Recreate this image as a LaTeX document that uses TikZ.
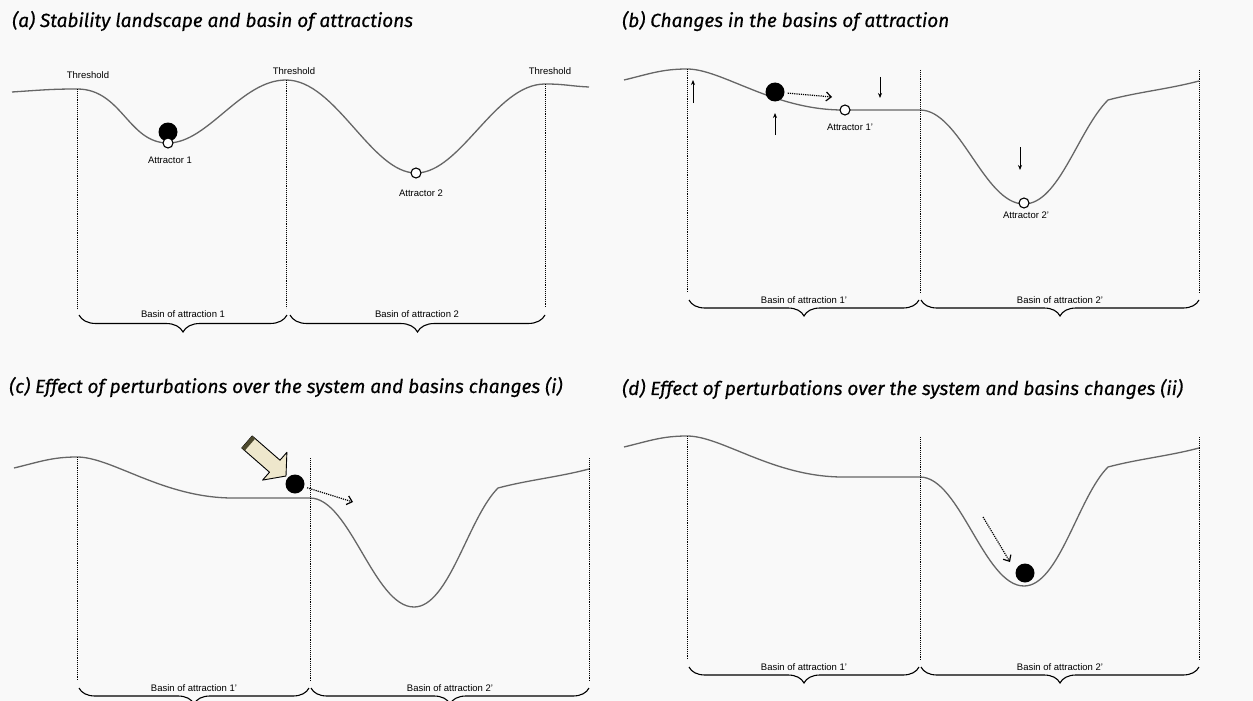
\documentclass[tikz,border=0pt]{standalone}
\usepackage{fontspec}
\setmainfont{Liberation Sans}
\newfontfamily\titlefont[FakeBold=0.5]{Fira Sans}
\usetikzlibrary{arrows.meta, decorations.pathreplacing}

\definecolor{paper}{RGB}{249,249,249}
\definecolor{cream}{RGB}{238,231,204}

\tikzset{
  land/.style={draw=black!60, line width=1.3pt},
  thresh/.style={densely dotted, line width=0.9pt},
  basin/.style={decorate, decoration={brace, mirror, amplitude=16pt}, line width=1.1pt},
  ball/.style={circle, fill=black, minimum size=19pt, inner sep=0pt},
  attr/.style={circle, draw, fill=white, line width=1.1pt, minimum size=10pt, inner sep=0pt},
  lbl/.style={font=\fontsize{9.5}{11}\selectfont, inner sep=0pt},
  ttl/.style={font=\titlefont\itshape\fontsize{19}{22}\selectfont, anchor=west, inner sep=0pt},
  move/.style={densely dotted, line width=1.2pt, -{Straight Barb[length=5pt, width=9pt]}},
  nudge/.style={line width=1pt, -{Stealth[length=5pt, width=4pt]}},
  push/.style={draw, fill=cream, line width=0.9pt, line join=round}
}

% landscape of panels (b)-(d), argument = depth of the second basin
\newcommand{\landscape}[1]{%
  \draw [land] (14,80) .. controls +(25,-6) and +(-25,0) .. (77,69)
    .. controls +(35,0) and +(-70,0) .. (233,110)
    .. controls +(30,0) and +(-30,0) .. (310,110)
    .. controls +(40,0) and +(-40,0) .. (414,#1)
    .. controls +(35,0) and +(-30,30) .. (498,100)
    .. controls +(30,-8) and +(-30,8) .. (589,81);
  \draw [thresh] (77,69) -- (77,293);
  \draw [thresh] (310,70) -- (310,293);
  \draw [thresh] (589,70) -- (589,293);
  \draw [basin] (79,300) -- (309,300);
  \draw [basin] (311,300) -- (589,300);
  \node [lbl] (basin1) at (194,300) {Basin of attraction 1'};
  \node [lbl] (basin2) at (450,300) {Basin of attraction 2'};}

\begin{document}
\begin{tikzpicture}[x=1pt, y=-1pt]
  \fill [paper] (0,0) rectangle (1253,701);
  \useasboundingbox (0,0) rectangle (1253,701);

  % (a)
  \node [ttl] (titleA) at (12,21) {(a) Stability landscape and basin of attractions};
  \draw [land] (12,92) .. controls +(30,-2) and +(-25,0) .. (77,89)
    .. controls +(45,0) and +(-40,0) .. (168,143)
    .. controls +(40,0) and +(-45,0) .. (286,80)
    .. controls +(50,0) and +(-45,0) .. (416,173)
    .. controls +(45,0) and +(-50,0) .. (545,84)
    .. controls +(20,0) and +(-20,-1) .. (589,87);
  \draw [thresh] (77,89) -- (77,308);
  \draw [thresh] (286,80) -- (286,308);
  \draw [thresh] (545,84) -- (545,308);
  \node [lbl] (thA1) at (88,75) {Threshold};
  \node [lbl] (thA2) at (294,71) {Threshold};
  \node [lbl] (thA3) at (550,71) {Threshold};
  \node [ball] (ballA) at (168,132) {};
  \node [attr] (attA1) at (168,143) {};
  \node [attr] (attA2) at (416,173) {};
  \node [lbl] (labA1) at (170,160) {Attractor 1};
  \node [lbl] (labA2) at (421,193) {Attractor 2};
  \draw [basin, decoration={amplitude=17pt}] (79,315) -- (287,315);
  \draw [basin, decoration={amplitude=17pt}] (290,315) -- (545,315);
  \node [lbl] (basinA1) at (183,314) {Basin of attraction 1};
  \node [lbl] (basinA2) at (417,314) {Basin of attraction 2};

  % (b)
  \begin{scope}[shift={(610,0)}]
    \node [ttl] (titleB) at (12,21) {(b) Changes in the basins of attraction};
    \landscape{204}
    \node [ball] (ballB) at (165,92) {};
    \node [attr] (attB1) at (235,110) {};
    \node [attr] (attB2) at (414,203) {};
    \node [lbl] (labB1) at (240,127) {Attractor 1'};
    \node [lbl] (labB2) at (416,215) {Attractor 2'};
    \coordinate (toB) at (222,97);
    \draw [move, shorten <=3pt] (ballB) -- (toB);
    \draw [nudge] (83,103) -- (83,80);
    \draw [nudge] (165,135) -- (165,113);
    \draw [nudge] (270,77) -- (270,98);
    \draw [nudge] (410,147) -- (410,170);
  \end{scope}

  % (c)
  \begin{scope}[shift={(0,388)}]
    \node [ttl] (titleC) at (9,-1) {(c) Effect of perturbations over the system and basins changes (i)};
    \landscape{219}
    \node [ball] (ballC) at (295,96) {};
    % block arrow pushing the ball
    \draw [push] (241.8,60) -- (252.2,48) -- (280,72.2) -- (286.9,64.3) -- (286,88)
      -- (262.6,92.1) -- (269.5,84.2) -- cycle;
    \fill [olive!40!black] (241.8,60) -- (252.2,48) -- (255.2,50.6) -- (244.8,62.6) -- cycle;
    \coordinate (toC) at (353,114);
    \draw [move, shorten <=3pt] (ballC) -- (toC);
  \end{scope}

  % (d)
  \begin{scope}[shift={(610,367)}]
    \node [ttl] (titleD) at (12,22) {(d) Effect of perturbations over the system and basins changes (ii)};
    \landscape{219}
    \node [ball] (ballD) at (415,206) {};
    \coordinate (fromD) at (373,150);
    \coordinate (toD) at (400,195);
    \draw [move] (fromD) -- (toD);
  \end{scope}
\end{tikzpicture}
\end{document}
